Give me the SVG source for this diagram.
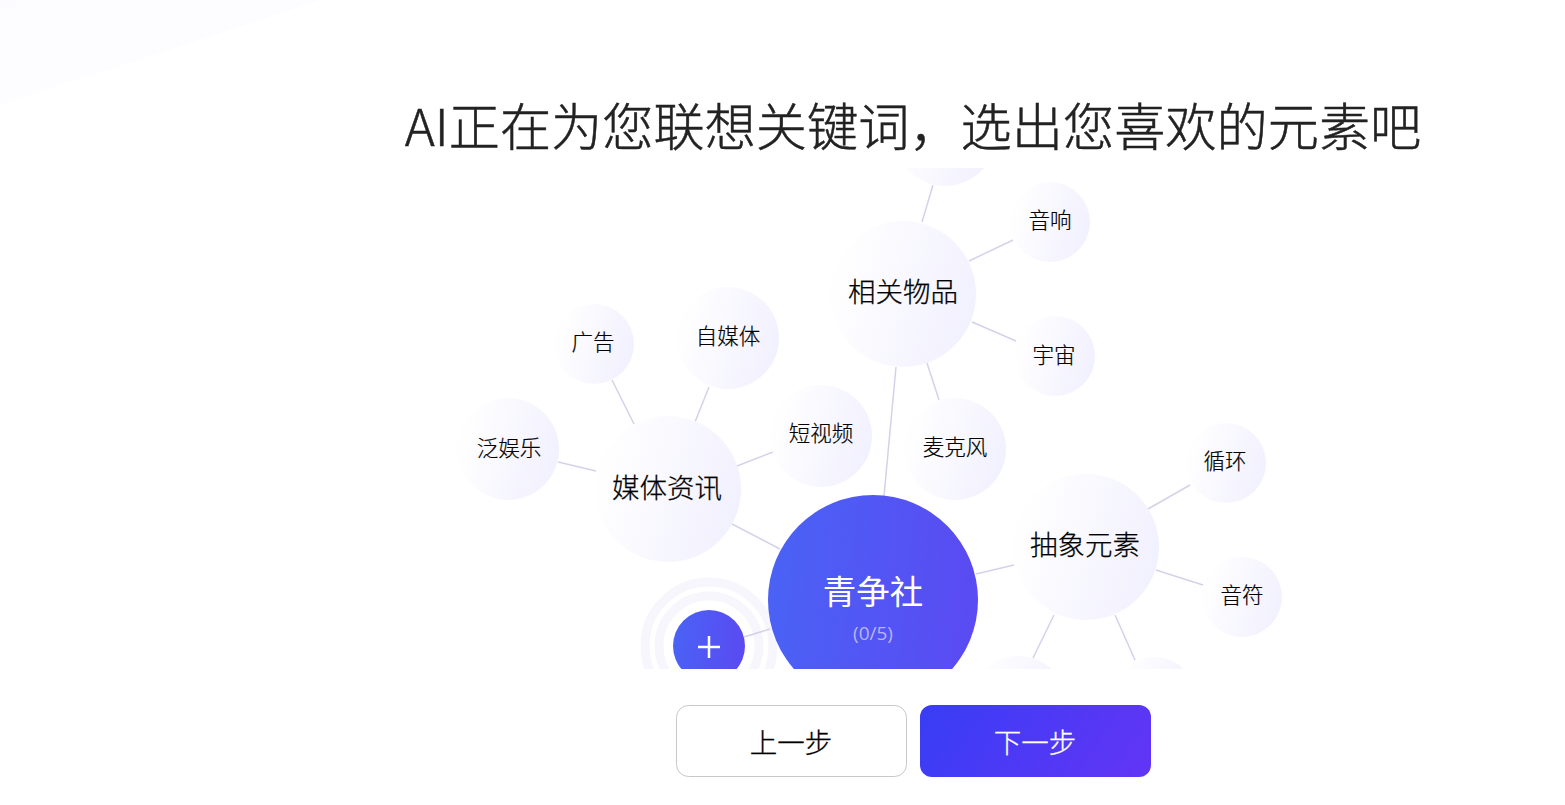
<svg xmlns="http://www.w3.org/2000/svg" width="1565" height="805" viewBox="0 0 1565 805">
<style>
text{font-family:"Noto Sans CJK SC","Noto Sans",sans-serif;text-anchor:middle;fill:#111}
.s{font-size:21.500px;font-weight:300;fill:#000;stroke:#000;stroke-width:0.200}
.m{font-size:27.500px;font-weight:300;fill:#000;stroke:#000;stroke-width:0.250}
.c{stroke:#d4d2ea;stroke-width:1.500;fill:none}
.l{fill:url(#light)}
.r{fill:none;stroke:#f7f6fd;stroke-width:9}
</style>
<defs>
<linearGradient id="light" x1="0.1" y1="0.4" x2="1" y2="0.65"><stop offset="0" stop-color="#fefeff"/><stop offset="1" stop-color="#f1f0fe"/></linearGradient>
<linearGradient id="blue" x1="0" y1="0.45" x2="1" y2="0.55"><stop offset="0" stop-color="#4a62f5"/><stop offset="1" stop-color="#5a4af2"/></linearGradient>
<linearGradient id="btn" x1="0" y1="0.4" x2="1" y2="0.6"><stop offset="0" stop-color="#3b3df5"/><stop offset="1" stop-color="#6035f5"/></linearGradient>
<linearGradient id="bg" x1="0" y1="0" x2="0.5" y2="1"><stop offset="0" stop-color="#fcfbff"/><stop offset="0.7" stop-color="#fdfcff"/><stop offset="1" stop-color="#fefeff"/></linearGradient>
<clipPath id="view"><rect x="380" y="168" width="1000" height="501"/></clipPath>
</defs>
<rect width="1565" height="805" fill="#fff"/>
<polygon points="0,0 320,0 0,105" fill="url(#bg)"/>
<text id="title" x="913" y="146" style="font-size:51.200px;font-weight:300;fill:#222;stroke:#222;stroke-width:0.500">AI正在为您联想关键词，选出您喜欢的元素吧</text>
<g clip-path="url(#view)">
<g id="rings"><circle class="r" cx="709" cy="646" r="50"/><circle class="r" cx="709" cy="646" r="64"/></g>
<g id="connectors">
<line class="c" x1="884" y1="496" x2="896" y2="367"/>
<line class="c" x1="780" y1="549" x2="732" y2="524"/>
<line class="c" x1="976" y1="574" x2="1014" y2="565"/>
<line class="c" x1="770" y1="629" x2="744" y2="637"/>
<line class="c" x1="922" y1="222" x2="933" y2="185"/>
<line class="c" x1="969" y1="261" x2="1013" y2="240"/>
<line class="c" x1="972" y1="322" x2="1016" y2="341"/>
<line class="c" x1="927" y1="363" x2="939" y2="400"/>
<line class="c" x1="737" y1="466" x2="773" y2="452"/>
<line class="c" x1="695" y1="422" x2="709" y2="387"/>
<line class="c" x1="634" y1="424" x2="612" y2="380"/>
<line class="c" x1="596" y1="471" x2="558" y2="462"/>
<line class="c" x1="1148" y1="509" x2="1190" y2="485"/>
<line class="c" x1="1156" y1="570" x2="1203" y2="585"/>
<line class="c" x1="1054" y1="615" x2="1033" y2="658"/>
<line class="c" x1="1115" y1="615" x2="1135" y2="660"/>
</g>
<g id="n-top"><circle class="l" cx="945" cy="135" r="51"/></g>
<g id="n-related"><circle class="l" cx="903" cy="294" r="73"/><text class="m" x="903" y="302">相关物品</text></g>
<g id="n-sound"><circle class="l" cx="1050" cy="222" r="40"/><text class="s" x="1050" y="228">音响</text></g>
<g id="n-universe"><circle class="l" cx="1055" cy="356" r="40"/><text class="s" x="1054" y="363">宇宙</text></g>
<g id="n-mic"><circle class="l" cx="955" cy="449" r="51"/><text class="s" x="955" y="455">麦克风</text></g>
<g id="n-media"><circle class="l" cx="668" cy="489" r="73"/><text class="m" x="667" y="498">媒体资讯</text></g>
<g id="n-video"><circle class="l" cx="821" cy="436" r="51"/><text class="s" x="821" y="441">短视频</text></g>
<g id="n-self"><circle class="l" cx="728" cy="338" r="51"/><text class="s" x="728" y="344">自媒体</text></g>
<g id="n-ad"><circle class="l" cx="594" cy="344" r="40"/><text class="s" x="593" y="350">广告</text></g>
<g id="n-ent"><circle class="l" cx="508" cy="449" r="51"/><text class="s" x="509" y="456">泛娱乐</text></g>
<g id="n-abstract"><circle class="l" cx="1086" cy="547" r="73"/><text class="m" x="1085" y="555">抽象元素</text></g>
<g id="n-loop"><circle class="l" cx="1226" cy="463" r="40"/><text class="s" x="1225" y="469">循环</text></g>
<g id="n-note"><circle class="l" cx="1242" cy="597" r="40"/><text class="s" x="1242" y="603">音符</text></g>
<g id="n-b1"><circle class="l" cx="1018" cy="707" r="51"/></g>
<g id="n-b2"><circle class="l" cx="1155" cy="697" r="40"/></g>
<g id="n-center"><circle cx="873" cy="600" r="105" fill="url(#blue)"/><text x="873" y="604" style="font-size:33.500px;fill:#fff">青争社</text><text x="873" y="640" style="font-size:19px;fill:#b9b5f8;font-family:'Open Sans','Noto Sans',sans-serif">(0/5)</text></g>
<g id="n-add"><circle cx="709" cy="646" r="36" fill="url(#blue)"/><path d="M709 636V658M698 647H720" stroke="#fff" stroke-width="2.500" fill="none"/></g>
</g>
<g id="btn-prev"><rect x="676.500" y="705.500" width="230" height="71" rx="12" fill="#fff" stroke="#c8c8c8"/><text x="791" y="753" style="font-size:27.500px;font-weight:300;fill:#000;stroke:#000;stroke-width:0.300">上一步</text></g>
<g id="btn-next"><rect x="920" y="705" width="231" height="72" rx="12" fill="url(#btn)"/><text x="1035" y="753" style="font-size:27.500px;font-weight:300;fill:#fff;stroke:#fff;stroke-width:0.300">下一步</text></g>
</svg>
